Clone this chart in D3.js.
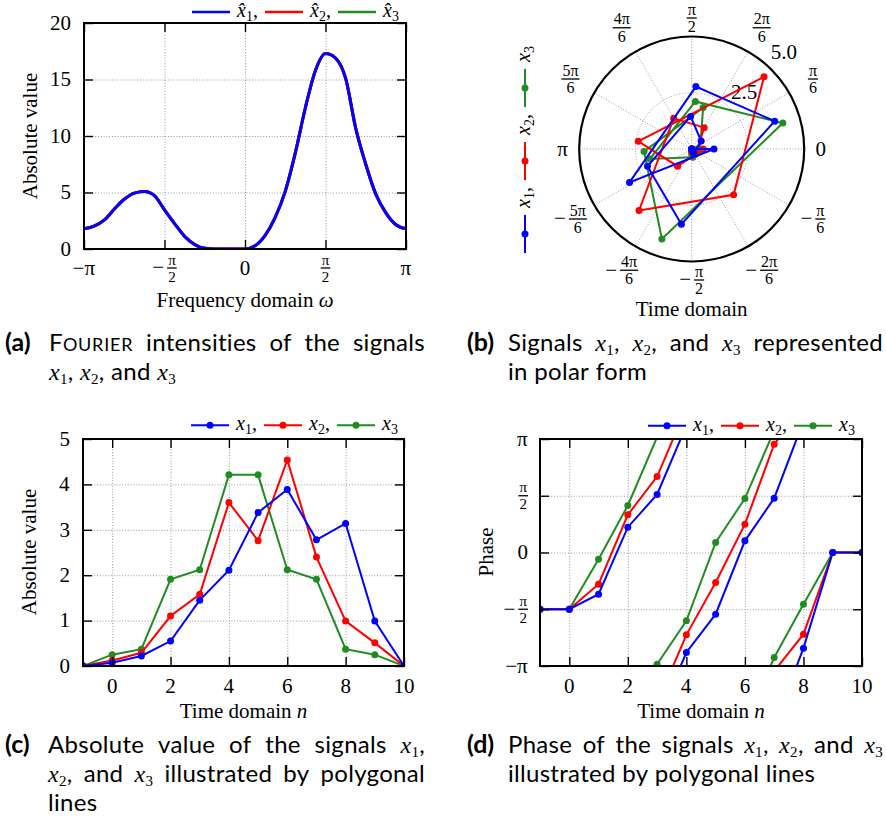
<!DOCTYPE html>
<html>
<head>
<meta charset="utf-8">
<script src="https://cdn.jsdelivr.net/npm/d3@7"></script>
<style>
  body { margin: 0; background: #fff; }
  .grid line { stroke: #999; stroke-width: 1; stroke-dasharray: 1, 1.8; }
</style>
</head>
<body>
<svg width="886" height="823" font-family="'Liberation Serif', serif"></svg>
<script>
var PI = Math.PI;

// ---- data ----
var seriesNames = ["x1", "x2", "x3"];
var seriesColors = ["#0000ff", "#ff0000", "#228b22"];

var timeN = [-1, 0, 1, 2, 3, 4, 5, 6, 7, 8, 9, 10];
var absX1 = [0, 0.07, 0.22, 0.55, 1.45, 2.11, 3.38, 3.89, 2.78, 3.14, 0.99, 0];
var absX2 = [0, 0.12, 0.29, 1.10, 1.58, 3.60, 2.76, 4.54, 2.40, 0.99, 0.51, 0];
var absX3 = [0, 0.25, 0.37, 1.91, 2.12, 4.21, 4.21, 2.12, 1.91, 0.37, 0.25, 0];

// phase in radians, wrapped to (-pi, pi]
var phaseX1 = [-1.571, -1.571, -1.153, 0.701, 1.605, -2.768, -1.707, 0.323, 1.504, -2.648, 0, 0];
var phaseX2 = [-1.571, -1.571, -0.876, 1.042, 2.103, -2.279, -0.830, 0.784, 2.998, -2.260, 0, 0];
var phaseX3 = [-1.571, -1.571, -0.185, 1.301, -3.090, -1.891, 0.277, 1.494, -2.906, -1.430, 0, 0];

// Fourier intensity (same for all three signals), omega in units of pi
var freqOmegaPi = [-1, -0.9375, -0.875, -0.8125, -0.75, -0.6875, -0.625, -0.5625, -0.5, -0.4375, -0.375,
  -0.3125, -0.25, -0.1875, -0.125, -0.0625, 0, 0.0625, 0.125, 0.1875, 0.25, 0.3125, 0.375, 0.4375,
  0.5, 0.5625, 0.625, 0.6875, 0.75, 0.8125, 0.875, 0.9375, 1];
var freqAbs = [1.80, 2.02, 2.55, 3.52, 4.40, 4.95, 5.08, 4.72, 3.46, 2.25, 1.12, 0.40, 0.06, 0, 0, 0,
  0, 0.28, 1.20, 2.80, 5.10, 8.50, 12.50, 15.80, 17.30, 16.90, 15.10, 10.70, 7.50, 4.85, 3.20, 2.15, 1.80];

var freqTicksPi = [-1, -0.5, 0, 0.5, 1];
var freqTickLabels = ["−π", "−π/2", "0", "π/2", "π"];
var freqAbsTicks = [0, 5, 10, 15, 20];
var timeTicks = [0, 2, 4, 6, 8, 10];
var absTicks = [0, 1, 2, 3, 4, 5];
var phaseTicksPi = [-1, -0.5, 0, 0.5, 1];
var phaseTickLabels = ["−π", "−π/2", "0", "π/2", "π"];
var polarAngleSixths = [0, 1, 2, 3, 4, 5, 6, -5, -4, -3, -2, -1];
var polarAngleLabels = ["0", "π/6", "2π/6", "π/2", "4π/6", "5π/6", "π", "−5π/6", "−4π/6", "−π/2", "−2π/6", "−π/6"];
var polarRadiusTicks = [2.5, 5];
var polarRadiusLabels = ["2.5", "5.0"];

var absSeries = [absX1, absX2, absX3];
var phaseSeries = [phaseX1, phaseX2, phaseX3];

var svg = d3.select("svg"),
    defs = svg.append("defs");
var capFont = "Lato, 'Open Sans', sans-serif";

function clipRect(id, x, y) {
  defs.append("clipPath").attr("id", id).append("rect")
      .attr("x", x.range()[0]).attr("y", y.range()[1])
      .attr("width", x.range()[1] - x.range()[0])
      .attr("height", y.range()[0] - y.range()[1]);
  return "url(#" + id + ")";
}

function grid(x, y, xg, yg) {
  var g = svg.append("g").attr("class", "grid");
  g.append("g").attr("transform", "translate(0," + y.range()[0] + ")")
      .call(d3.axisBottom(x).tickValues(xg).tickSize(-(y.range()[0] - y.range()[1])).tickFormat(""))
    .select(".domain").remove();
  g.append("g").attr("transform", "translate(" + x.range()[0] + ",0)")
      .call(d3.axisLeft(y).tickValues(yg).tickSize(-(x.range()[1] - x.range()[0])).tickFormat(""))
    .select(".domain").remove();
}

function ticks(x, y, xt, yt) {
  var specs = [
    [d3.axisBottom(x).tickValues(xt), "translate(0," + y.range()[0] + ")"],
    [d3.axisTop(x).tickValues(xt), "translate(0," + y.range()[1] + ")"],
    [d3.axisLeft(y).tickValues(yt), "translate(" + x.range()[0] + ",0)"],
    [d3.axisRight(y).tickValues(yt), "translate(" + x.range()[1] + ",0)"]
  ];
  specs.forEach(function(s) {
    var a = svg.append("g").attr("transform", s[1])
        .call(s[0].tickSize(-9).tickFormat(""));
    a.select(".domain").remove();
    a.selectAll("line").attr("stroke", "#000").attr("stroke-width", 1.4);
  });
}

function frame(x, y) {
  svg.append("rect")
      .attr("x", x.range()[0]).attr("y", y.range()[1])
      .attr("width", x.range()[1] - x.range()[0])
      .attr("height", y.range()[0] - y.range()[1])
      .attr("fill", "none").attr("stroke", "#000").attr("stroke-width", 2);
}

// plain label or TeX-like fraction ("−π/2"), centred vertically on y
function texLabel(g, x, y, label, anchor, size, fsize) {
  var grp = g.append("g");
  var m = label.match(/^(−?)(.+)\/(.+)$/);
  if (!m) {
    grp.append("text").attr("font-size", size).attr("y", 0.32 * size).text(label);
  } else {
    var c0 = 0;
    if (m[1]) {
      var mt = grp.append("text").attr("font-size", size).attr("y", 0.3 * size).text("−");
      c0 = mt.node().getComputedTextLength() + 3;
    }
    var num = grp.append("text").attr("font-size", fsize).attr("y", -3.5)
        .attr("text-anchor", "middle").text(m[2]);
    var den = grp.append("text").attr("font-size", fsize).attr("y", 0.7 * fsize + 3)
        .attr("text-anchor", "middle").text(m[3]);
    var bw = Math.max(num.node().getComputedTextLength(), den.node().getComputedTextLength()) + 2;
    num.attr("x", c0 + bw / 2);
    den.attr("x", c0 + bw / 2);
    grp.append("line").attr("x1", c0).attr("x2", c0 + bw)
        .attr("stroke", "#000").attr("stroke-width", 1.3);
  }
  var bb = grp.node().getBBox();
  var dx = anchor === "end" ? -(bb.x + bb.width) : -(bb.x + bb.width / 2);
  grp.attr("transform", "translate(" + (x + dx) + "," + y + ")");
}

function mathX(t, sub, tail, hat, subSize, shift) {
  t.append("tspan").attr("font-style", "italic").attr("font-family", "'Liberation Serif', serif")
      .text(hat ? "x\u0302" : "x");
  t.append("tspan").attr("font-size", subSize).attr("dy", shift)
      .attr("font-family", "'Liberation Serif', serif").text(sub);
  t.append("tspan").attr("dy", -shift).text(tail || "");
}

function legend(g, x0, y, markers, hat) {
  seriesNames.forEach(function(name, i) {
    var x = x0 + i * 73;
    g.append("line").attr("x1", x).attr("x2", x + 38).attr("y1", y).attr("y2", y)
        .attr("stroke", seriesColors[i]).attr("stroke-width", markers ? 2 : 2.5);
    if (markers) g.append("circle").attr("cx", x + 19).attr("cy", y).attr("r", 3.5)
        .attr("fill", seriesColors[i]);
    var t = g.append("text").attr("x", x + 45).attr("y", y + 5).attr("font-size", 20);
    mathX(t, name.slice(1), i < 2 ? "," : "", hat, 14, 4);
  });
}

function axisTitle(x, y, main, italic, rotate) {
  var t = svg.append("text").attr("font-size", 21).attr("text-anchor", "middle")
      .attr("transform", "translate(" + x + "," + y + ")" + (rotate ? " rotate(-90)" : ""));
  t.append("tspan").text(main);
  if (italic) t.append("tspan").attr("font-style", "italic").text(italic);
}

// ---------- (a) Fourier intensities ----------
var xa = d3.scaleLinear().domain([-PI, PI]).range([84, 406]),
    ya = d3.scaleLinear().domain([0, 20]).range([249, 23]);
grid(xa, ya, [-PI / 2, 0, PI / 2], [5, 10, 15]);
var clipA = clipRect("clipA", xa, ya);
var freqData = freqOmegaPi.map(function(w, i) { return {w: w * PI, v: freqAbs[i]}; });
var lineA = d3.line()
    .x(function(d) { return xa(d.w); })
    .y(function(d) { return ya(d.v); })
    .curve(d3.curveMonotoneX);
[2, 1, 0].forEach(function(s) {
  svg.append("path").datum(freqData).attr("clip-path", clipA)
      .attr("d", lineA).attr("fill", "none")
      .attr("stroke", seriesColors[s]).attr("stroke-width", 3);
});
ticks(xa, ya, freqTicksPi.map(function(v) { return v * PI; }), freqAbsTicks);
frame(xa, ya);
freqTicksPi.forEach(function(v, i) { texLabel(svg, xa(v * PI), 268, freqTickLabels[i], "middle", 21, 15); });
freqAbsTicks.forEach(function(v) { texLabel(svg, 71, ya(v), String(v), "end", 21, 15); });
axisTitle(245, 307, "Frequency domain ", "ω", false);
axisTitle(37, 136, "Absolute value", null, true);
legend(svg, 192, 12, false, true);

// ---------- (b) polar form ----------
var pcx = 691.7, pcy = 149;
var rr = d3.scaleLinear().domain([0, 5]).range([0, 112.5]);
var pg = svg.append("g").attr("transform", "translate(" + pcx + "," + pcy + ")");
polarAngleSixths.forEach(function(k) {
  var p = d3.pointRadial(PI / 2 - k * PI / 6, rr(5));
  pg.append("line").attr("x1", 0).attr("y1", 0).attr("x2", p[0]).attr("y2", p[1])
      .attr("stroke", "#999").attr("stroke-dasharray", "1,1.8");
});
pg.append("circle").attr("r", rr(polarRadiusTicks[0])).attr("fill", "none")
    .attr("stroke", "#999").attr("stroke-dasharray", "1,1.8");
polarRadiusTicks.forEach(function(v, i) {
  var p = d3.pointRadial(PI / 4, rr(v));
  pg.append("text").attr("x", p[0] - 0.5).attr("y", p[1] - 10.5)
      .attr("font-size", 21).text(polarRadiusLabels[i]);
});
pg.append("circle").attr("r", rr(5)).attr("fill", "none")
    .attr("stroke", "#000").attr("stroke-width", 2.2);
var radial = d3.lineRadial()
    .angle(function(d) { return PI / 2 - d.p; })
    .radius(function(d) { return rr(d.a); });
[2, 1, 0].forEach(function(s) {
  var pts = timeN.map(function(n, i) { return {a: absSeries[s][i], p: phaseSeries[s][i]}; });
  pg.append("path").datum(pts).attr("d", radial).attr("fill", "none")
      .attr("stroke", seriesColors[s]).attr("stroke-width", 2);
  pg.selectAll(null).data(pts).enter().append("circle")
      .attr("cx", function(d) { return d3.pointRadial(PI / 2 - d.p, rr(d.a))[0]; })
      .attr("cy", function(d) { return d3.pointRadial(PI / 2 - d.p, rr(d.a))[1]; })
      .attr("r", 3.5).attr("fill", seriesColors[s]);
});
polarAngleSixths.forEach(function(k, i) {
  var lab = polarAngleLabels[i];
  var ang = k * PI / 6;
  var rl = lab.indexOf("/") < 0 ? 129 : (Math.abs(Math.sin(ang)) > 0.99 ? 131 : 140);
  var p = d3.pointRadial(PI / 2 - ang, rl);
  texLabel(pg, p[0], p[1], lab, "middle", 21, 16);
});
svg.append("text").attr("x", pcx).attr("y", 316).attr("font-size", 21)
    .attr("text-anchor", "middle").text("Time domain");
legend(svg.append("g").attr("transform", "translate(525,253) rotate(-90)"), 0, 0, true, false);

// ---------- (c) absolute value ----------
var xc = d3.scaleLinear().domain([-1, 10]).range([83, 404]),
    yc = d3.scaleLinear().domain([0, 5]).range([666, 439]);
grid(xc, yc, [0, 2, 4, 6, 8], [1, 2, 3, 4]);
var clipC = clipRect("clipC", xc, yc);
var lineC = d3.line()
    .x(function(d) { return xc(d.n); })
    .y(function(d) { return yc(d.v); });
[2, 1, 0].forEach(function(s) {
  var pts = timeN.map(function(n, i) { return {n: n, v: absSeries[s][i]}; });
  var g = svg.append("g").attr("clip-path", clipC);
  g.append("path").datum(pts).attr("d", lineC).attr("fill", "none")
      .attr("stroke", seriesColors[s]).attr("stroke-width", 2);
  g.selectAll("circle").data(pts).enter().append("circle")
      .attr("cx", function(d) { return xc(d.n); })
      .attr("cy", function(d) { return yc(d.v); })
      .attr("r", 3.5).attr("fill", seriesColors[s]);
});
ticks(xc, yc, timeTicks, absTicks);
frame(xc, yc);
timeTicks.forEach(function(v) { texLabel(svg, xc(v), 686.3, String(v), "middle", 21, 15); });
absTicks.forEach(function(v) { texLabel(svg, 70, yc(v), String(v), "end", 21, 15); });
axisTitle(243.5, 717.7, "Time domain ", "n", false);
axisTitle(36, 552, "Absolute value", null, true);
legend(svg, 191, 425.3, true, false);

// ---------- (d) phase ----------
var xd = d3.scaleLinear().domain([-1, 10]).range([540, 862]),
    yd = d3.scaleLinear().domain([-PI, PI]).range([666, 439]);
grid(xd, yd, [0, 2, 4, 6, 8], [-PI / 2, 0, PI / 2]);
var clipD = clipRect("clipD", xd, yd);
var lineD = d3.line()
    .x(function(d) { return xd(d.n); })
    .y(function(d) { return yd(d.v); });
function unwrap(p) {
  var u = [p[0]];
  for (var i = 1; i < p.length; i++) {
    var d = p[i] - p[i - 1];
    while (d > PI) d -= 2 * PI;
    while (d < -PI) d += 2 * PI;
    u.push(u[i - 1] + d);
  }
  return u;
}
[2, 1, 0].forEach(function(s) {
  var u = unwrap(phaseSeries[s]);
  var g = svg.append("g").attr("clip-path", clipD);
  [-3, -2, -1, 0, 1].forEach(function(k) {
    var pts = timeN.map(function(n, i) { return {n: n, v: u[i] + k * 2 * PI}; });
    g.append("path").datum(pts).attr("d", lineD).attr("fill", "none")
        .attr("stroke", seriesColors[s]).attr("stroke-width", 2);
  });
  g.selectAll("circle").data(timeN).enter().append("circle")
      .attr("cx", function(n) { return xd(n); })
      .attr("cy", function(n, i) { return yd(phaseSeries[s][i]); })
      .attr("r", 3.5).attr("fill", seriesColors[s]);
});
ticks(xd, yd, timeTicks, phaseTicksPi.map(function(v) { return v * PI; }));
frame(xd, yd);
timeTicks.forEach(function(v) { texLabel(svg, xd(v), 686.3, String(v), "middle", 21, 15); });
phaseTicksPi.forEach(function(v, i) { texLabel(svg, 528, yd(v * PI), phaseTickLabels[i], "end", 21, 15); });
axisTitle(701, 717.7, "Time domain ", "n", false);
axisTitle(493, 552, "Phase", null, true);
legend(svg, 648, 425.7, true, false);

// ---------- captions ----------
var captions = [
  {label: "(a)", lx: 5, tx: 49, right: 425, y: 351,
   lines: [["~Fourier intensities of the signals", true], ["$1, $2, and $3", false]]},
  {label: "(b)", lx: 467, tx: 508, right: 883, y: 351,
   lines: [["Signals $1, $2, and $3 represented", true], ["in polar form", false]]},
  {label: "(c)", lx: 5, tx: 48, right: 425, y: 753,
   lines: [["Absolute value of the signals $1,", true], ["$2, and $3 illustrated by polygonal", true], ["lines", false]]},
  {label: "(d)", lx: 467, tx: 508, right: 883, y: 753,
   lines: [["Phase of the signals $1, $2, and $3", true], ["illustrated by polygonal lines", false]]}
];

function drawWord(y, w) {
  var t = svg.append("text").attr("y", y).attr("font-family", capFont).attr("font-size", 24)
      .attr("letter-spacing", 0.3);
  var m = w.match(/^\$(\d)(.*)$/);
  if (m) {
    mathX(t, m[1], m[2], false, 15, 4);
  } else if (w[0] === "~") {
    t.append("tspan").text(w[1]);
    t.append("tspan").attr("font-size", 18).attr("letter-spacing", 0.8).text(w.slice(2).toUpperCase());
  } else {
    t.text(w);
  }
  return t;
}

captions.forEach(function(c) {
  svg.append("text").attr("x", c.lx).attr("y", c.y).attr("font-family", capFont)
      .attr("font-weight", "bold").attr("font-size", 25).text(c.label);
  c.lines.forEach(function(ln, li) {
    var y = c.y + li * 29;
    var words = ln[0].split(" ");
    var nodes = words.map(function(w) { return drawWord(y, w); });
    var widths = nodes.map(function(n) { return n.node().getComputedTextLength(); });
    var gap = ln[1] ? (c.right - c.tx - d3.sum(widths)) / (words.length - 1) : 6.5;
    var x = c.tx;
    nodes.forEach(function(n, i) { n.attr("x", x); x += widths[i] + gap; });
  });
});
</script>
</body>
</html>
